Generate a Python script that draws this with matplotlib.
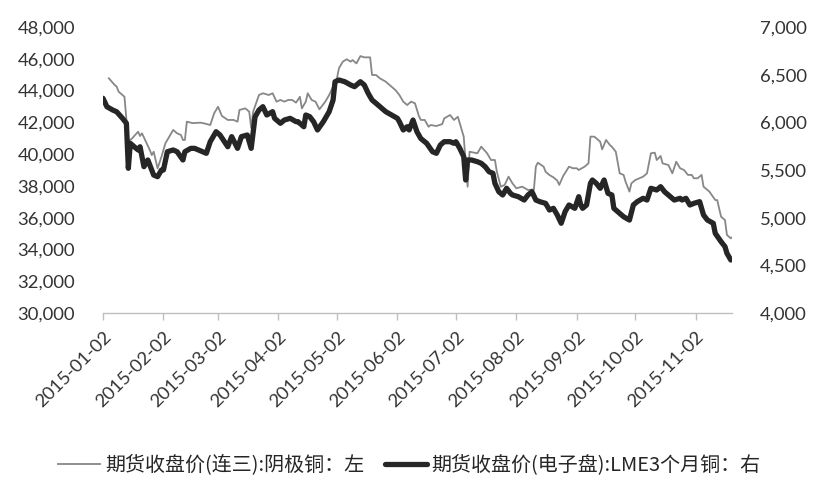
import matplotlib
matplotlib.use('Agg')
import matplotlib.pyplot as plt
import matplotlib.dates as mdates
from matplotlib.ticker import FuncFormatter, FixedLocator
import pandas as pd

# ---------------- data ----------------
gray_dates = ["01-05","01-08","01-09","01-10","01-13","01-15","01-17","01-20","01-21","01-22","01-24","01-26","01-27","01-28","01-29","01-30",
"02-01","02-03","02-05","02-07","02-09","02-11","02-12","02-13","02-14","02-17","02-21","02-24","02-26","02-28",
"03-02","03-04","03-07","03-10","03-12","03-13","03-16","03-18","03-19","03-20","03-23","03-25","03-28","03-30",
"04-01","04-03","04-05","04-07","04-09","04-11","04-13","04-14","04-16","04-17","04-19","04-21","04-23","04-26","04-28",
"05-02","05-03","05-05","05-07","05-09","05-10","05-12","05-14","05-16","05-19","05-20","05-22","05-24","05-27","05-29",
"06-01","06-03","06-05","06-07","06-09","06-11","06-13","06-14","06-16","06-18","06-19","06-22","06-25","06-26","06-29",
"07-01","07-03","07-06","07-08","07-09","07-13","07-15","07-18","07-20","07-22","07-23","07-25","07-27","07-29","07-31",
"08-02","08-05","08-08","08-11","08-12","08-13","08-16","08-17","08-19","08-21","08-23","08-24","08-26","08-29","08-31",
"09-02","09-03","09-06","09-08","09-09","09-11","09-14","09-15","09-17","09-19","09-20","09-22","09-24","09-26","09-27","09-29","09-30",
"10-02","10-06","10-08","10-10","10-12","10-13","10-15","10-16","10-19","10-21","10-23","10-25","10-27","10-29","10-31",
"11-01","11-03","11-05","11-06","11-09","11-12","11-13","11-15","11-17","11-18","11-20","11-21"]
gray_values = [44770,44350,44250,43930,43610,40780,41000,41410,41140,41310,40780,40260,39940,40150,39630,39100,
39840,40680,41100,41520,41310,41200,40890,40890,42040,41950,41980,41900,41830,42570,
42980,42400,42150,42150,42040,42780,42880,42670,41650,42670,43720,43830,43720,43830,
43300,43410,43300,43410,43410,43240,43610,42880,43300,43830,43410,43300,42820,43300,43720,
44770,45400,45820,45970,45820,45920,45710,46170,46090,46090,44980,44980,44770,44560,44350,
44030,43720,43300,43090,43300,43200,42400,42150,42150,41720,41830,41770,41890,42250,42460,
42150,42350,41100,37950,40150,40050,40470,40050,39630,39630,38890,37950,38060,38580,38160,
37850,37950,37740,37780,39210,39460,39210,38890,38680,38540,38330,38060,38620,39210,39110,
39110,39000,39210,39420,41100,41100,40780,40300,40890,40570,40460,40150,38790,38690,38270,37640,38160,
38370,38580,38790,40050,40090,39630,39880,39420,39310,38790,39520,39110,39000,38690,38690,
38480,38480,38690,37950,37640,37110,37110,36060,35850,34910,34700,34800]

black_dates = ["01-02","01-04","01-07","01-09","01-12","01-14","01-15","01-16","01-18","01-20","01-21","01-23","01-25","01-26","01-28","01-30",
"02-01","02-02","02-04","02-07","02-09","02-12","02-13","02-16","02-18","02-20","02-24","02-26",
"03-01","03-03","03-07","03-09","03-12","03-14","03-17","03-19","03-21","03-23","03-25","03-27","03-30","03-31",
"04-03","04-05","04-08","04-11","04-12","04-15","04-16","04-18","04-20","04-22","04-25","04-28","04-30",
"05-01","05-03","05-06","05-09","05-11","05-14","05-16","05-18","05-20","05-22","05-25","05-27","05-30",
"06-02","06-03","06-05","06-07","06-08","06-10","06-12","06-14","06-17","06-20","06-22","06-24","06-26","06-29",
"07-01","07-02","07-04","07-06","07-07","07-08","07-10","07-13","07-15","07-17","07-19","07-21","07-22","07-24","07-26","07-28","07-30","07-31",
"08-03","08-06","08-08","08-10","08-12","08-14","08-17","08-19","08-21","08-23","08-25","08-27","08-29",
"09-01","09-03","09-04","09-05","09-07","09-09","09-10","09-12","09-14","09-16","09-18","09-20","09-21","09-24","09-26","09-29",
"10-01","10-03","10-06","10-08","10-10","10-13","10-15","10-17","10-20","10-22","10-25","10-26","10-28","10-30",
"11-01","11-04","11-06","11-08","11-11","11-12","11-15","11-17","11-18","11-20"]
black_values = [6252,6164,6129,6111,6042,5990,5518,5780,5744,5710,5744,5535,5605,5552,5447,5430,
5500,5500,5692,5710,5692,5605,5692,5727,5727,5710,5675,5797,
5902,5867,5744,5850,5727,5850,5867,5727,6059,6129,6164,6077,6112,6042,
5990,6024,6042,6007,6007,5954,6077,6060,6007,5920,6007,6112,6234,
6426,6444,6426,6392,6374,6426,6392,6305,6234,6200,6147,6112,6077,
6042,6007,5920,5954,5920,6024,5902,5830,5780,5692,5675,5762,5797,5797,
5780,5797,5727,5640,5395,5605,5605,5587,5570,5535,5482,5465,5360,5272,5238,5308,5255,5238,
5220,5185,5238,5272,5185,5168,5150,5080,5098,5028,4941,5063,5133,
5098,5220,5133,5098,5133,5360,5395,5360,5308,5395,5255,5238,5098,5046,5010,4975,
5133,5168,5203,5185,5308,5290,5325,5272,5220,5185,5203,5185,5203,5133,
5150,5168,5028,4975,4941,4836,4748,4696,4626,4556]

left_ticks = [30000, 32000, 34000, 36000, 38000, 40000, 42000, 44000, 46000, 48000]
right_ticks = [4000, 4500, 5000, 5500, 6000, 6500, 7000]
x_tick_labels = ["2015-01-02","2015-02-02","2015-03-02","2015-04-02","2015-05-02","2015-06-02",
                 "2015-07-02","2015-08-02","2015-09-02","2015-10-02","2015-11-02"]
series_names = ["期货收盘价(连三):阴极铜：左", "期货收盘价(电子盘):LME3个月铜：右"]

# ---------------- plot ----------------
gx = pd.to_datetime(["2015-" + d for d in gray_dates])
bx = pd.to_datetime(["2015-" + d for d in black_dates])
xt = pd.to_datetime(x_tick_labels)

fig = plt.figure(figsize=(8.19, 4.93), dpi=100)
ax = fig.add_axes([103/819, 1-313/493, (732-103)/819, (313-27)/493])
ax2 = ax.twinx()

tick_family = ['Lato', 'DejaVu Sans']
tick_size = 13.3
tick_color = '#333333'

l1, = ax.plot(gx, gray_values, color='#878787', lw=1.3, solid_joinstyle='round')
l2, = ax2.plot(bx, black_values, color='#262626', lw=3.8, solid_joinstyle='round', solid_capstyle='round')

ax.set_ylim(30000, 48000)
ax2.set_ylim(4000, 7000)
ax.yaxis.set_major_locator(FixedLocator(left_ticks))
ax2.yaxis.set_major_locator(FixedLocator(right_ticks))
fmt = FuncFormatter(lambda v, p: f"{int(round(v)):,}")
ax.yaxis.set_major_formatter(fmt)
ax2.yaxis.set_major_formatter(fmt)

x0 = pd.Timestamp("2015-01-02")
ax.set_xlim(x0, x0 + pd.Timedelta(days=322.6))
ax.set_xticks(xt)
ax.set_xticklabels(x_tick_labels)

for a in (ax, ax2):
    for s in a.spines.values():
        s.set_visible(False)
ax.spines['bottom'].set_visible(True)
ax.spines['bottom'].set_color('#BFBFBF')
ax.spines['bottom'].set_linewidth(1.0)

ax.tick_params(axis='y', length=0, pad=20)
ax2.tick_params(axis='y', length=0, pad=20)
ax.tick_params(axis='x', direction='out', length=5, width=1, color='#BFBFBF', pad=6)

for lab in ax.get_yticklabels() + ax2.get_yticklabels() + ax.get_xticklabels():
    lab.set_fontfamily(tick_family); lab.set_fontsize(tick_size); lab.set_color(tick_color)
for lab in ax.get_xticklabels():
    lab.set_rotation(45); lab.set_ha('right'); lab.set_va('top'); lab.set_rotation_mode('anchor')

leg = fig.legend([l1, l2], series_names, loc='center', bbox_to_anchor=(0.5, 1-465/493), ncol=2,
                 frameon=False, handlelength=2.1, handletextpad=0.25, columnspacing=1.0,
                 prop=dict(family=['Noto Sans CJK SC', 'DejaVu Sans'], size=14.4))
for t in leg.get_texts():
    t.set_color('#262626')

fig.savefig('out.png', dpi=100)
